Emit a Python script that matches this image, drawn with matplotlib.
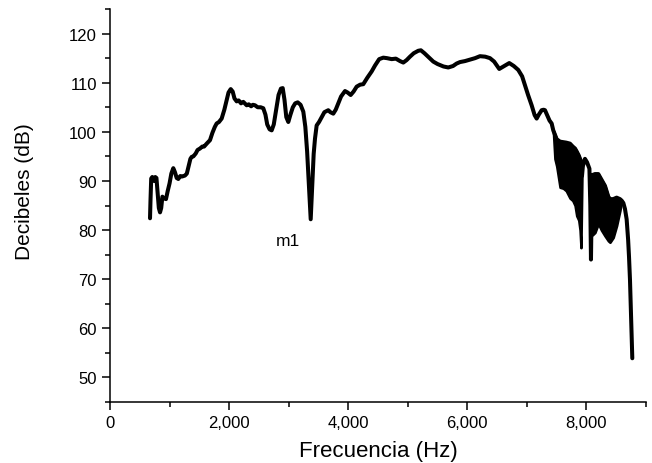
import numpy as np
import matplotlib
matplotlib.use('Agg')
import matplotlib.pyplot as plt
from matplotlib.ticker import MultipleLocator, StrMethodFormatter

plt.rcParams['font.family'] = ['Liberation Sans', 'DejaVu Sans']

# curva principal (Hz, dB)
freq = [672, 680, 692, 710, 740, 760, 780, 800, 820, 840, 860, 880, 900, 940, 970,
        1000, 1030, 1063, 1090, 1120, 1147, 1180, 1210, 1259, 1290, 1320, 1350, 1372,
        1400, 1440, 1470, 1511, 1550, 1580, 1624, 1679, 1720, 1760, 1791, 1830, 1875,
        1920, 1960, 1990, 2027, 2060, 2090, 2127, 2160, 2200, 2238, 2270, 2295, 2330,
        2370, 2400, 2435, 2480, 2530, 2574, 2610, 2640, 2680, 2715, 2750, 2790, 2830,
        2870, 2900, 2930, 2960, 2994, 3030, 3070, 3110, 3152, 3200, 3246, 3280, 3310,
        3340, 3370, 3395, 3420, 3442, 3470, 3510, 3554, 3600, 3665, 3700, 3749, 3790,
        3833, 3880, 3946, 3990, 4041, 4090, 4142, 4200, 4253, 4320, 4394, 4450, 4520,
        4589, 4650, 4730, 4800, 4870, 4925, 4980, 5037, 5100, 5176, 5220, 5280, 5350,
        5428, 5500, 5600, 5680, 5760, 5820, 5877, 5960, 6044, 6130, 6212, 6300, 6380,
        6450, 6536, 6620, 6704, 6780, 6855, 6920, 6968, 7020, 7080, 7130, 7164, 7200,
        7248, 7280, 7304, 7340, 7380, 7416, 7443, 7500, 7556, 7611, 7660, 7723, 7770,
        7808, 7836, 7870, 7892, 7908, 7925, 7940, 7975, 8010, 8050, 8065, 8076, 8088,
        8100, 8143, 8199, 8250, 8311, 8367, 8395, 8450, 8507, 8563, 8591, 8620, 8647,
        8675, 8700, 8715, 8731, 8750, 8765, 8770]
db = [82.4, 86.0, 90.5, 90.8, 90.0, 90.8, 90.6, 87.5, 84.5, 83.6, 84.5, 86.8, 86.5, 86.3, 88.0,
      89.5, 91.5, 92.6, 91.8, 90.6, 90.4, 91.0, 90.9, 91.1, 91.5, 93.0, 94.5, 94.9,
      95.0, 95.6, 96.3, 96.6, 97.0, 97.0, 97.6, 98.3, 99.8, 101.0, 101.7, 102.0, 102.7,
      104.5, 106.5, 108.0, 108.7, 108.2, 106.8, 106.2, 106.4, 105.8, 106.1, 105.7, 105.4, 105.6,
      105.2, 105.5, 105.4, 105.0, 105.0, 104.8, 103.5, 101.5, 100.5, 100.3, 101.5, 104.5, 107.5,
      108.8, 108.9, 106.5, 103.0, 102.0, 103.5, 105.0, 105.8, 106.0, 105.5, 104.1, 101.0, 96.0,
      89.0, 82.2, 89.0, 95.5, 98.6, 101.3, 102.0, 103.0, 104.0, 104.4, 104.0, 103.7, 104.5,
      105.8, 107.2, 108.3, 108.0, 107.5, 108.2, 109.2, 109.6, 109.7, 111.0, 112.3, 113.5, 114.8,
      115.1, 115.0, 114.8, 114.9, 114.4, 114.1, 114.6, 115.3, 116.0, 116.5, 116.6, 116.0, 115.2,
      114.3, 113.8, 113.3, 113.1, 113.4, 113.9, 114.2, 114.4, 114.7, 115.0, 115.4, 115.3, 115.0,
      114.3, 112.8, 113.4, 114.0, 113.4, 112.6, 111.3, 109.5, 107.5, 105.4, 103.4, 102.7, 103.5,
      104.4, 104.5, 104.4, 103.4, 102.3, 101.7, 100.3, 98.5, 98.0, 97.9, 97.8, 97.6, 97.0,
      96.6, 96.0, 95.2, 94.5, 94.0, 91.0, 93.0, 94.5, 93.8, 92.5, 85.0, 74.0, 85.0,
      91.2, 91.4, 91.4, 90.3, 89.0, 86.8, 86.3, 86.3, 86.6, 86.3, 86.0, 85.5, 84.3,
      82.2, 78.0, 74.5, 69.9, 62.0, 56.5, 53.9]

# zonas de oscilacion rapida (envolventes)
band_a_freq = [7443, 7470, 7500, 7556, 7611, 7660, 7723, 7770, 7808, 7836, 7870, 7892, 7908, 7925]
band_a_upper = [100.3, 99.5, 98.5, 98.0, 97.9, 97.8, 97.6, 97.0, 96.6, 96.0, 95.2, 94.5, 94.0, 91.0]
band_a_lower = [100.3, 94.5, 93.0, 88.7, 88.5, 88.0, 86.5, 86.0, 85.0, 82.9, 82.0, 80.0, 76.4, 91.0]

band_b_freq = [8088, 8100, 8143, 8199, 8250, 8311, 8367, 8395, 8450, 8507, 8563, 8591]
band_b_upper = [85.0, 91.2, 91.4, 91.4, 90.3, 89.0, 86.8, 86.3, 86.3, 86.6, 86.3, 86.0]
band_b_lower = [85.0, 79.0, 79.5, 81.3, 80.0, 78.8, 77.8, 77.5, 78.5, 80.9, 84.0, 86.0]

fig = plt.figure(figsize=(6.52, 4.64), dpi=100)
ax = fig.add_axes([0.1687, 0.1315, 0.8221, 0.8469])

ax.plot(freq, db, color='black', linewidth=2.9, solid_joinstyle='round', solid_capstyle='round')
ax.fill_between(band_a_freq, band_a_lower, band_a_upper, facecolor='black', edgecolor='black', linewidth=1.8)
ax.fill_between(band_b_freq, band_b_lower, band_b_upper, facecolor='black', edgecolor='black', linewidth=1.8)

ax.text(2989, 77.8, 'm1', fontsize=12.5, ha='center', va='center')

ax.set_xlim(0, 9000)
ax.set_ylim(45, 125)
ax.xaxis.set_major_locator(MultipleLocator(2000))
ax.xaxis.set_minor_locator(MultipleLocator(1000))
ax.xaxis.set_major_formatter(StrMethodFormatter('{x:,.0f}'))
ax.yaxis.set_major_locator(MultipleLocator(10))
ax.yaxis.set_minor_locator(MultipleLocator(5))

for s in ['top', 'right']:
    ax.spines[s].set_visible(False)
for s in ['left', 'bottom']:
    ax.spines[s].set_linewidth(1.1)

ax.tick_params(which='major', direction='out', length=6, width=1.1, labelsize=12, pad=3.5)
ax.tick_params(which='minor', direction='out', length=3.5, width=1.1)

ax.set_xlabel('Frecuencia (Hz)', fontsize=16)
ax.set_ylabel('Decibeles (dB)', fontsize=15)
ax.xaxis.set_label_coords(0.5, -0.097)
ax.yaxis.set_label_coords(-0.142, 0.538)

plt.savefig('out.png', dpi=100)
